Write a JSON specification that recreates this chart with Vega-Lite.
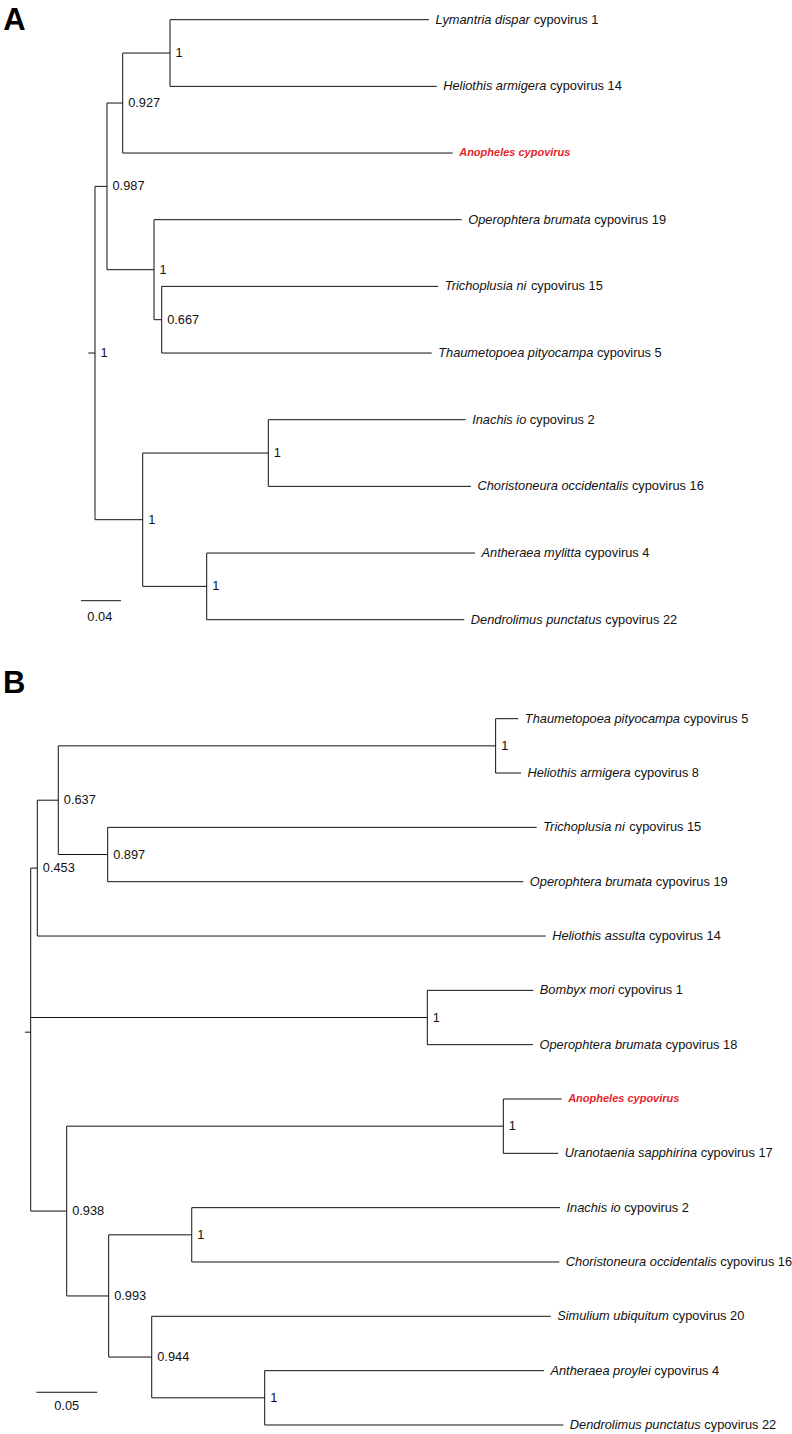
{
  "$schema": "https://vega.github.io/schema/vega-lite/v6.json",
  "width": 792,
  "height": 1434,
  "autosize": {"type": "none"},
  "padding": 0,
  "background": "white",
  "config": {"view": {"stroke": null}, "font": "Liberation Sans", "axis": {"disable": true}},
  "datasets": {
    "A": [
      {"id": "r0", "parent": null, "x": -0.0067, "y": 5},
      {"id": "r", "parent": "r0", "x": 0, "y": 5, "s": "1"},
      {"id": "n1", "parent": "r", "x": 0.012, "y": 2.5, "s": "0.987"},
      {"id": "n2", "parent": "n1", "x": 0.0277, "y": 1.25, "s": "0.927"},
      {"id": "n3", "parent": "n2", "x": 0.075, "y": 0.5, "s": "1"},
      {"id": "t1", "parent": "n3", "x": 0.334, "y": 0, "sp": "Lymantria dispar", "rest": "cypovirus 1"},
      {"id": "t2", "parent": "n3", "x": 0.3417, "y": 1, "sp": "Heliothis armigera", "rest": "cypovirus 14"},
      {"id": "t3", "parent": "n2", "x": 0.3577, "y": 2, "sp": "Anopheles", "rest": "cypovirus"},
      {"id": "n4", "parent": "n1", "x": 0.059, "y": 3.75, "s": "1"},
      {"id": "t4", "parent": "n4", "x": 0.3667, "y": 3, "sp": "Operophtera brumata", "rest": "cypovirus 19"},
      {"id": "n5", "parent": "n4", "x": 0.0667, "y": 4.5, "s": "0.667"},
      {"id": "t5", "parent": "n5", "x": 0.3433, "y": 4, "sp": "Trichoplusia ni", "rest": "cypovirus 15"},
      {"id": "t6", "parent": "n5", "x": 0.3367, "y": 5, "sp": "Thaumetopoea pityocampa", "rest": "cypovirus 5"},
      {"id": "n6", "parent": "r", "x": 0.0477, "y": 7.5, "s": "1"},
      {"id": "n7", "parent": "n6", "x": 0.1733, "y": 6.5, "s": "1"},
      {"id": "t7", "parent": "n7", "x": 0.3707, "y": 6, "sp": "Inachis io", "rest": "cypovirus 2"},
      {"id": "t8", "parent": "n7", "x": 0.376, "y": 7, "sp": "Choristoneura occidentalis", "rest": "cypovirus 16"},
      {"id": "n8", "parent": "n6", "x": 0.1117, "y": 8.5, "s": "1"},
      {"id": "t9", "parent": "n8", "x": 0.38, "y": 8, "sp": "Antheraea mylitta", "rest": "cypovirus 4"},
      {"id": "t10", "parent": "n8", "x": 0.3693, "y": 9, "sp": "Dendrolimus punctatus", "rest": "cypovirus 22"}
    ],
    "B": [
      {"id": "r0", "parent": null, "x": -0.0047, "y": 5.77},
      {"id": "r", "parent": "r0", "x": 0, "y": 5.77},
      {"id": "m1", "parent": "r", "x": 0.00541, "y": 2.75, "s": "0.453"},
      {"id": "m2", "parent": "m1", "x": 0.02262, "y": 1.5, "s": "0.637"},
      {"id": "m3", "parent": "m2", "x": 0.3811, "y": 0.5, "s": "1"},
      {"id": "u0", "parent": "m3", "x": 0.3997, "y": 0, "sp": "Thaumetopoea pityocampa", "rest": "cypovirus 5"},
      {"id": "u1", "parent": "m3", "x": 0.4019, "y": 1, "sp": "Heliothis armigera", "rest": "cypovirus 8"},
      {"id": "m4", "parent": "m2", "x": 0.0631, "y": 2.5, "s": "0.897"},
      {"id": "u2", "parent": "m4", "x": 0.4148, "y": 2, "sp": "Trichoplusia ni", "rest": "cypovirus 15"},
      {"id": "u3", "parent": "m4", "x": 0.4038, "y": 3, "sp": "Operophtera brumata", "rest": "cypovirus 19"},
      {"id": "u4", "parent": "m1", "x": 0.4221, "y": 4, "sp": "Heliothis assulta", "rest": "cypovirus 14"},
      {"id": "m5", "parent": "r", "x": 0.3251, "y": 5.5, "s": "1"},
      {"id": "u5", "parent": "m5", "x": 0.412, "y": 5, "sp": "Bombyx mori", "rest": "cypovirus 1"},
      {"id": "u6", "parent": "m5", "x": 0.4117, "y": 6, "sp": "Operophtera brumata", "rest": "cypovirus 18"},
      {"id": "m6", "parent": "r", "x": 0.0295, "y": 9.0625, "s": "0.938"},
      {"id": "m7", "parent": "m6", "x": 0.3874, "y": 7.5, "s": "1"},
      {"id": "u7", "parent": "m7", "x": 0.4352, "y": 7, "sp": "Anopheles", "rest": "cypovirus"},
      {"id": "u8", "parent": "m7", "x": 0.4325, "y": 8, "sp": "Uranotaenia sapphirina", "rest": "cypovirus 17"},
      {"id": "m8", "parent": "m6", "x": 0.0639, "y": 10.625, "s": "0.993"},
      {"id": "m9", "parent": "m8", "x": 0.132, "y": 9.5, "s": "1"},
      {"id": "u9", "parent": "m9", "x": 0.4339, "y": 9, "sp": "Inachis io", "rest": "cypovirus 2"},
      {"id": "u10", "parent": "m9", "x": 0.4333, "y": 10, "sp": "Choristoneura occidentalis", "rest": "cypovirus 16"},
      {"id": "m10", "parent": "m8", "x": 0.0992, "y": 11.75, "s": "0.944"},
      {"id": "u11", "parent": "m10", "x": 0.4262, "y": 11, "sp": "Simulium ubiquitum", "rest": "cypovirus 20"},
      {"id": "m11", "parent": "m10", "x": 0.1918, "y": 12.5, "s": "1"},
      {"id": "u12", "parent": "m11", "x": 0.4207, "y": 12, "sp": "Antheraea proylei", "rest": "cypovirus 4"},
      {"id": "u13", "parent": "m11", "x": 0.4366, "y": 13, "sp": "Dendrolimus punctatus", "rest": "cypovirus 22"}
    ]
  },
  "layer": [
    {
      "layer": [
        {
          "data": {"name": "A"},
          "transform": [
            {"lookup": "parent", "from": {"data": {"name": "A"}, "key": "id", "fields": ["x"]}, "as": ["px"]},
            {"filter": "isValid(datum.px)"}
          ],
          "mark": {"type": "rule", "color": "#111", "strokeWidth": 1},
          "encoding": {
            "x": {"field": "px", "type": "quantitative", "scale": {"domain": [-0.095, 0.697], "nice": false, "zero": false}},
            "x2": {"field": "x"},
            "y": {"field": "y", "type": "quantitative", "scale": {"domain": [-0.2955, 21.2145], "reverse": true, "nice": false, "zero": false}}
          }
        },
        {
          "data": {"name": "A"},
          "transform": [
            {"filter": "isValid(datum.parent)"},
            {"aggregate": [{"op": "min", "field": "y", "as": "y0"}, {"op": "max", "field": "y", "as": "y1"}], "groupby": ["parent"]},
            {"lookup": "parent", "from": {"data": {"name": "A"}, "key": "id", "fields": ["x"]}, "as": ["nx"]}
          ],
          "mark": {"type": "rule", "color": "#111", "strokeWidth": 1},
          "encoding": {
            "x": {"field": "nx", "type": "quantitative", "scale": {"domain": [-0.095, 0.697], "nice": false, "zero": false}},
            "y": {"field": "y0", "type": "quantitative", "scale": {"domain": [-0.2955, 21.2145], "reverse": true, "nice": false, "zero": false}},
            "y2": {"field": "y1"}
          }
        },
        {
          "data": {"name": "A"},
          "transform": [{"filter": "isValid(datum.s)"}],
          "mark": {"type": "text", "align": "left", "baseline": "middle", "dx": 5.5, "fontSize": 12.8, "color": "#111"},
          "encoding": {
            "x": {"field": "x", "type": "quantitative", "scale": {"domain": [-0.095, 0.697], "nice": false, "zero": false}},
            "y": {"field": "y", "type": "quantitative", "scale": {"domain": [-0.2955, 21.2145], "reverse": true, "nice": false, "zero": false}},
            "text": {"field": "s"}
          }
        },
        {
          "data": {"name": "A"},
          "transform": [{"filter": "isValid(datum.sp) && datum.sp !== 'Anopheles'"}],
          "mark": {"type": "text", "align": "left", "baseline": "middle", "dx": 6.5, "fontSize": 12.8, "fontStyle": "italic", "color": "#111"},
          "encoding": {
            "x": {"field": "x", "type": "quantitative", "scale": {"domain": [-0.095, 0.697], "nice": false, "zero": false}},
            "y": {"field": "y", "type": "quantitative", "scale": {"domain": [-0.2955, 21.2145], "reverse": true, "nice": false, "zero": false}},
            "text": {"field": "sp"}
          }
        },
        {
          "data": {"name": "A"},
          "transform": [
            {"filter": "isValid(datum.sp) && datum.sp !== 'Anopheles'"},
            {"calculate": "0.0128*(556*length(datum.sp) - 334*length(replace(datum.sp, regexp('[^ilj]','g'), '')) - 278*length(replace(datum.sp, regexp('[^tf ]','g'), '')) - 223*length(replace(datum.sp, regexp('[^r]','g'), '')) - 56*length(replace(datum.sp, regexp('[^ckvxyzs]','g'), '')) + 277*length(replace(datum.sp, regexp('[^m]','g'), '')) + 166*length(replace(datum.sp, regexp('[^CDHUw]','g'), '')) + 111*length(replace(datum.sp, regexp('[^ABS]','g'), '')) + 55*length(replace(datum.sp, regexp('[^T]','g'), '')) + 222*length(replace(datum.sp, regexp('[^O]','g'), '')) - 278*length(replace(datum.sp, regexp('[^I]','g'), '')))", "as": "lw"}
          ],
          "mark": {"type": "text", "align": "left", "baseline": "middle", "dx": {"expr": "10.1 + datum.lw"}, "fontSize": 12.8, "color": "#111"},
          "encoding": {
            "x": {"field": "x", "type": "quantitative", "scale": {"domain": [-0.095, 0.697], "nice": false, "zero": false}},
            "y": {"field": "y", "type": "quantitative", "scale": {"domain": [-0.2955, 21.2145], "reverse": true, "nice": false, "zero": false}},
            "text": {"field": "rest"}
          }
        },
        {
          "data": {"name": "A"},
          "transform": [
            {"filter": "datum.sp === 'Anopheles'"},
            {"calculate": "datum.sp + ' ' + datum.rest", "as": "full"}
          ],
          "mark": {"type": "text", "align": "left", "baseline": "middle", "dx": 6.5, "fontSize": 11, "fontStyle": "italic", "fontWeight": "bold", "color": "#e3262b"},
          "encoding": {
            "x": {"field": "x", "type": "quantitative", "scale": {"domain": [-0.095, 0.697], "nice": false, "zero": false}},
            "y": {"field": "y", "type": "quantitative", "scale": {"domain": [-0.2955, 21.2145], "reverse": true, "nice": false, "zero": false}},
            "text": {"field": "full"}
          }
        },
        {
          "data": {"values": [{}]},
          "mark": {"type": "rule", "color": "#111", "strokeWidth": 1},
          "encoding": {
            "x": {"datum": -0.014, "type": "quantitative", "scale": {"domain": [-0.095, 0.697], "nice": false, "zero": false}},
            "x2": {"datum": 0.026},
            "y": {"datum": 8.715, "type": "quantitative", "scale": {"domain": [-0.2955, 21.2145], "reverse": true, "nice": false, "zero": false}}
          }
        },
        {
          "data": {"values": [{}]},
          "mark": {"type": "text", "align": "center", "baseline": "middle", "fontSize": 12.8, "color": "#111"},
          "encoding": {
            "x": {"datum": 0.0048, "type": "quantitative", "scale": {"domain": [-0.095, 0.697], "nice": false, "zero": false}},
            "y": {"datum": 8.96, "type": "quantitative", "scale": {"domain": [-0.2955, 21.2145], "reverse": true, "nice": false, "zero": false}},
            "text": {"value": "0.04"}
          }
        },
        {
          "data": {"values": [{}]},
          "mark": {"type": "text", "align": "left", "baseline": "alphabetic", "fontSize": 31, "fontWeight": "bold", "color": "#000"},
          "encoding": {
            "x": {"datum": -0.0917, "type": "quantitative", "scale": {"domain": [-0.095, 0.697], "nice": false, "zero": false}},
            "y": {"datum": 0.15, "type": "quantitative", "scale": {"domain": [-0.2955, 21.2145], "reverse": true, "nice": false, "zero": false}},
            "text": {"value": "A"}
          }
        }
      ]
    },
    {
      "layer": [
        {
          "data": {"name": "B"},
          "transform": [
            {"lookup": "parent", "from": {"data": {"name": "B"}, "key": "id", "fields": ["x"]}, "as": ["px"]},
            {"filter": "isValid(datum.px)"}
          ],
          "mark": {"type": "rule", "color": "#111", "strokeWidth": 1},
          "encoding": {
            "x": {"field": "px", "type": "quantitative", "scale": {"domain": [-0.025164, 0.62402], "nice": false, "zero": false}},
            "x2": {"field": "x"},
            "y": {"field": "y", "type": "quantitative", "scale": {"domain": [-13.2284, 13.1659], "reverse": true, "nice": false, "zero": false}}
          }
        },
        {
          "data": {"name": "B"},
          "transform": [
            {"filter": "isValid(datum.parent)"},
            {"aggregate": [{"op": "min", "field": "y", "as": "y0"}, {"op": "max", "field": "y", "as": "y1"}], "groupby": ["parent"]},
            {"lookup": "parent", "from": {"data": {"name": "B"}, "key": "id", "fields": ["x"]}, "as": ["nx"]}
          ],
          "mark": {"type": "rule", "color": "#111", "strokeWidth": 1},
          "encoding": {
            "x": {"field": "nx", "type": "quantitative", "scale": {"domain": [-0.025164, 0.62402], "nice": false, "zero": false}},
            "y": {"field": "y0", "type": "quantitative", "scale": {"domain": [-13.2284, 13.1659], "reverse": true, "nice": false, "zero": false}},
            "y2": {"field": "y1"}
          }
        },
        {
          "data": {"name": "B"},
          "transform": [{"filter": "isValid(datum.s)"}],
          "mark": {"type": "text", "align": "left", "baseline": "middle", "dx": 5.5, "fontSize": 12.8, "color": "#111"},
          "encoding": {
            "x": {"field": "x", "type": "quantitative", "scale": {"domain": [-0.025164, 0.62402], "nice": false, "zero": false}},
            "y": {"field": "y", "type": "quantitative", "scale": {"domain": [-13.2284, 13.1659], "reverse": true, "nice": false, "zero": false}},
            "text": {"field": "s"}
          }
        },
        {
          "data": {"name": "B"},
          "transform": [{"filter": "isValid(datum.sp) && datum.sp !== 'Anopheles'"}],
          "mark": {"type": "text", "align": "left", "baseline": "middle", "dx": 6.5, "fontSize": 12.8, "fontStyle": "italic", "color": "#111"},
          "encoding": {
            "x": {"field": "x", "type": "quantitative", "scale": {"domain": [-0.025164, 0.62402], "nice": false, "zero": false}},
            "y": {"field": "y", "type": "quantitative", "scale": {"domain": [-13.2284, 13.1659], "reverse": true, "nice": false, "zero": false}},
            "text": {"field": "sp"}
          }
        },
        {
          "data": {"name": "B"},
          "transform": [
            {"filter": "isValid(datum.sp) && datum.sp !== 'Anopheles'"},
            {"calculate": "0.0128*(556*length(datum.sp) - 334*length(replace(datum.sp, regexp('[^ilj]','g'), '')) - 278*length(replace(datum.sp, regexp('[^tf ]','g'), '')) - 223*length(replace(datum.sp, regexp('[^r]','g'), '')) - 56*length(replace(datum.sp, regexp('[^ckvxyzs]','g'), '')) + 277*length(replace(datum.sp, regexp('[^m]','g'), '')) + 166*length(replace(datum.sp, regexp('[^CDHUw]','g'), '')) + 111*length(replace(datum.sp, regexp('[^ABS]','g'), '')) + 55*length(replace(datum.sp, regexp('[^T]','g'), '')) + 222*length(replace(datum.sp, regexp('[^O]','g'), '')) - 278*length(replace(datum.sp, regexp('[^I]','g'), '')))", "as": "lw"}
          ],
          "mark": {"type": "text", "align": "left", "baseline": "middle", "dx": {"expr": "10.1 + datum.lw"}, "fontSize": 12.8, "color": "#111"},
          "encoding": {
            "x": {"field": "x", "type": "quantitative", "scale": {"domain": [-0.025164, 0.62402], "nice": false, "zero": false}},
            "y": {"field": "y", "type": "quantitative", "scale": {"domain": [-13.2284, 13.1659], "reverse": true, "nice": false, "zero": false}},
            "text": {"field": "rest"}
          }
        },
        {
          "data": {"name": "B"},
          "transform": [
            {"filter": "datum.sp === 'Anopheles'"},
            {"calculate": "datum.sp + ' ' + datum.rest", "as": "full"}
          ],
          "mark": {"type": "text", "align": "left", "baseline": "middle", "dx": 6.5, "fontSize": 11, "fontStyle": "italic", "fontWeight": "bold", "color": "#e3262b"},
          "encoding": {
            "x": {"field": "x", "type": "quantitative", "scale": {"domain": [-0.025164, 0.62402], "nice": false, "zero": false}},
            "y": {"field": "y", "type": "quantitative", "scale": {"domain": [-13.2284, 13.1659], "reverse": true, "nice": false, "zero": false}},
            "text": {"field": "full"}
          }
        },
        {
          "data": {"values": [{}]},
          "mark": {"type": "rule", "color": "#111", "strokeWidth": 1},
          "encoding": {
            "x": {"datum": 0.0046, "type": "quantitative", "scale": {"domain": [-0.025164, 0.62402], "nice": false, "zero": false}},
            "x2": {"datum": 0.0546},
            "y": {"datum": 12.398, "type": "quantitative", "scale": {"domain": [-13.2284, 13.1659], "reverse": true, "nice": false, "zero": false}}
          }
        },
        {
          "data": {"values": [{}]},
          "mark": {"type": "text", "align": "center", "baseline": "middle", "fontSize": 12.8, "color": "#111"},
          "encoding": {
            "x": {"datum": 0.0295, "type": "quantitative", "scale": {"domain": [-0.025164, 0.62402], "nice": false, "zero": false}},
            "y": {"datum": 12.65, "type": "quantitative", "scale": {"domain": [-13.2284, 13.1659], "reverse": true, "nice": false, "zero": false}},
            "text": {"value": "0.05"}
          }
        },
        {
          "data": {"values": [{}]},
          "mark": {"type": "text", "align": "left", "baseline": "alphabetic", "fontSize": 31, "fontWeight": "bold", "color": "#000"},
          "encoding": {
            "x": {"datum": -0.0227, "type": "quantitative", "scale": {"domain": [-0.025164, 0.62402], "nice": false, "zero": false}},
            "y": {"datum": -0.473, "type": "quantitative", "scale": {"domain": [-13.2284, 13.1659], "reverse": true, "nice": false, "zero": false}},
            "text": {"value": "B"}
          }
        }
      ]
    }
  ],
  "resolve": {"scale": {"x": "independent", "y": "independent"}}
}
